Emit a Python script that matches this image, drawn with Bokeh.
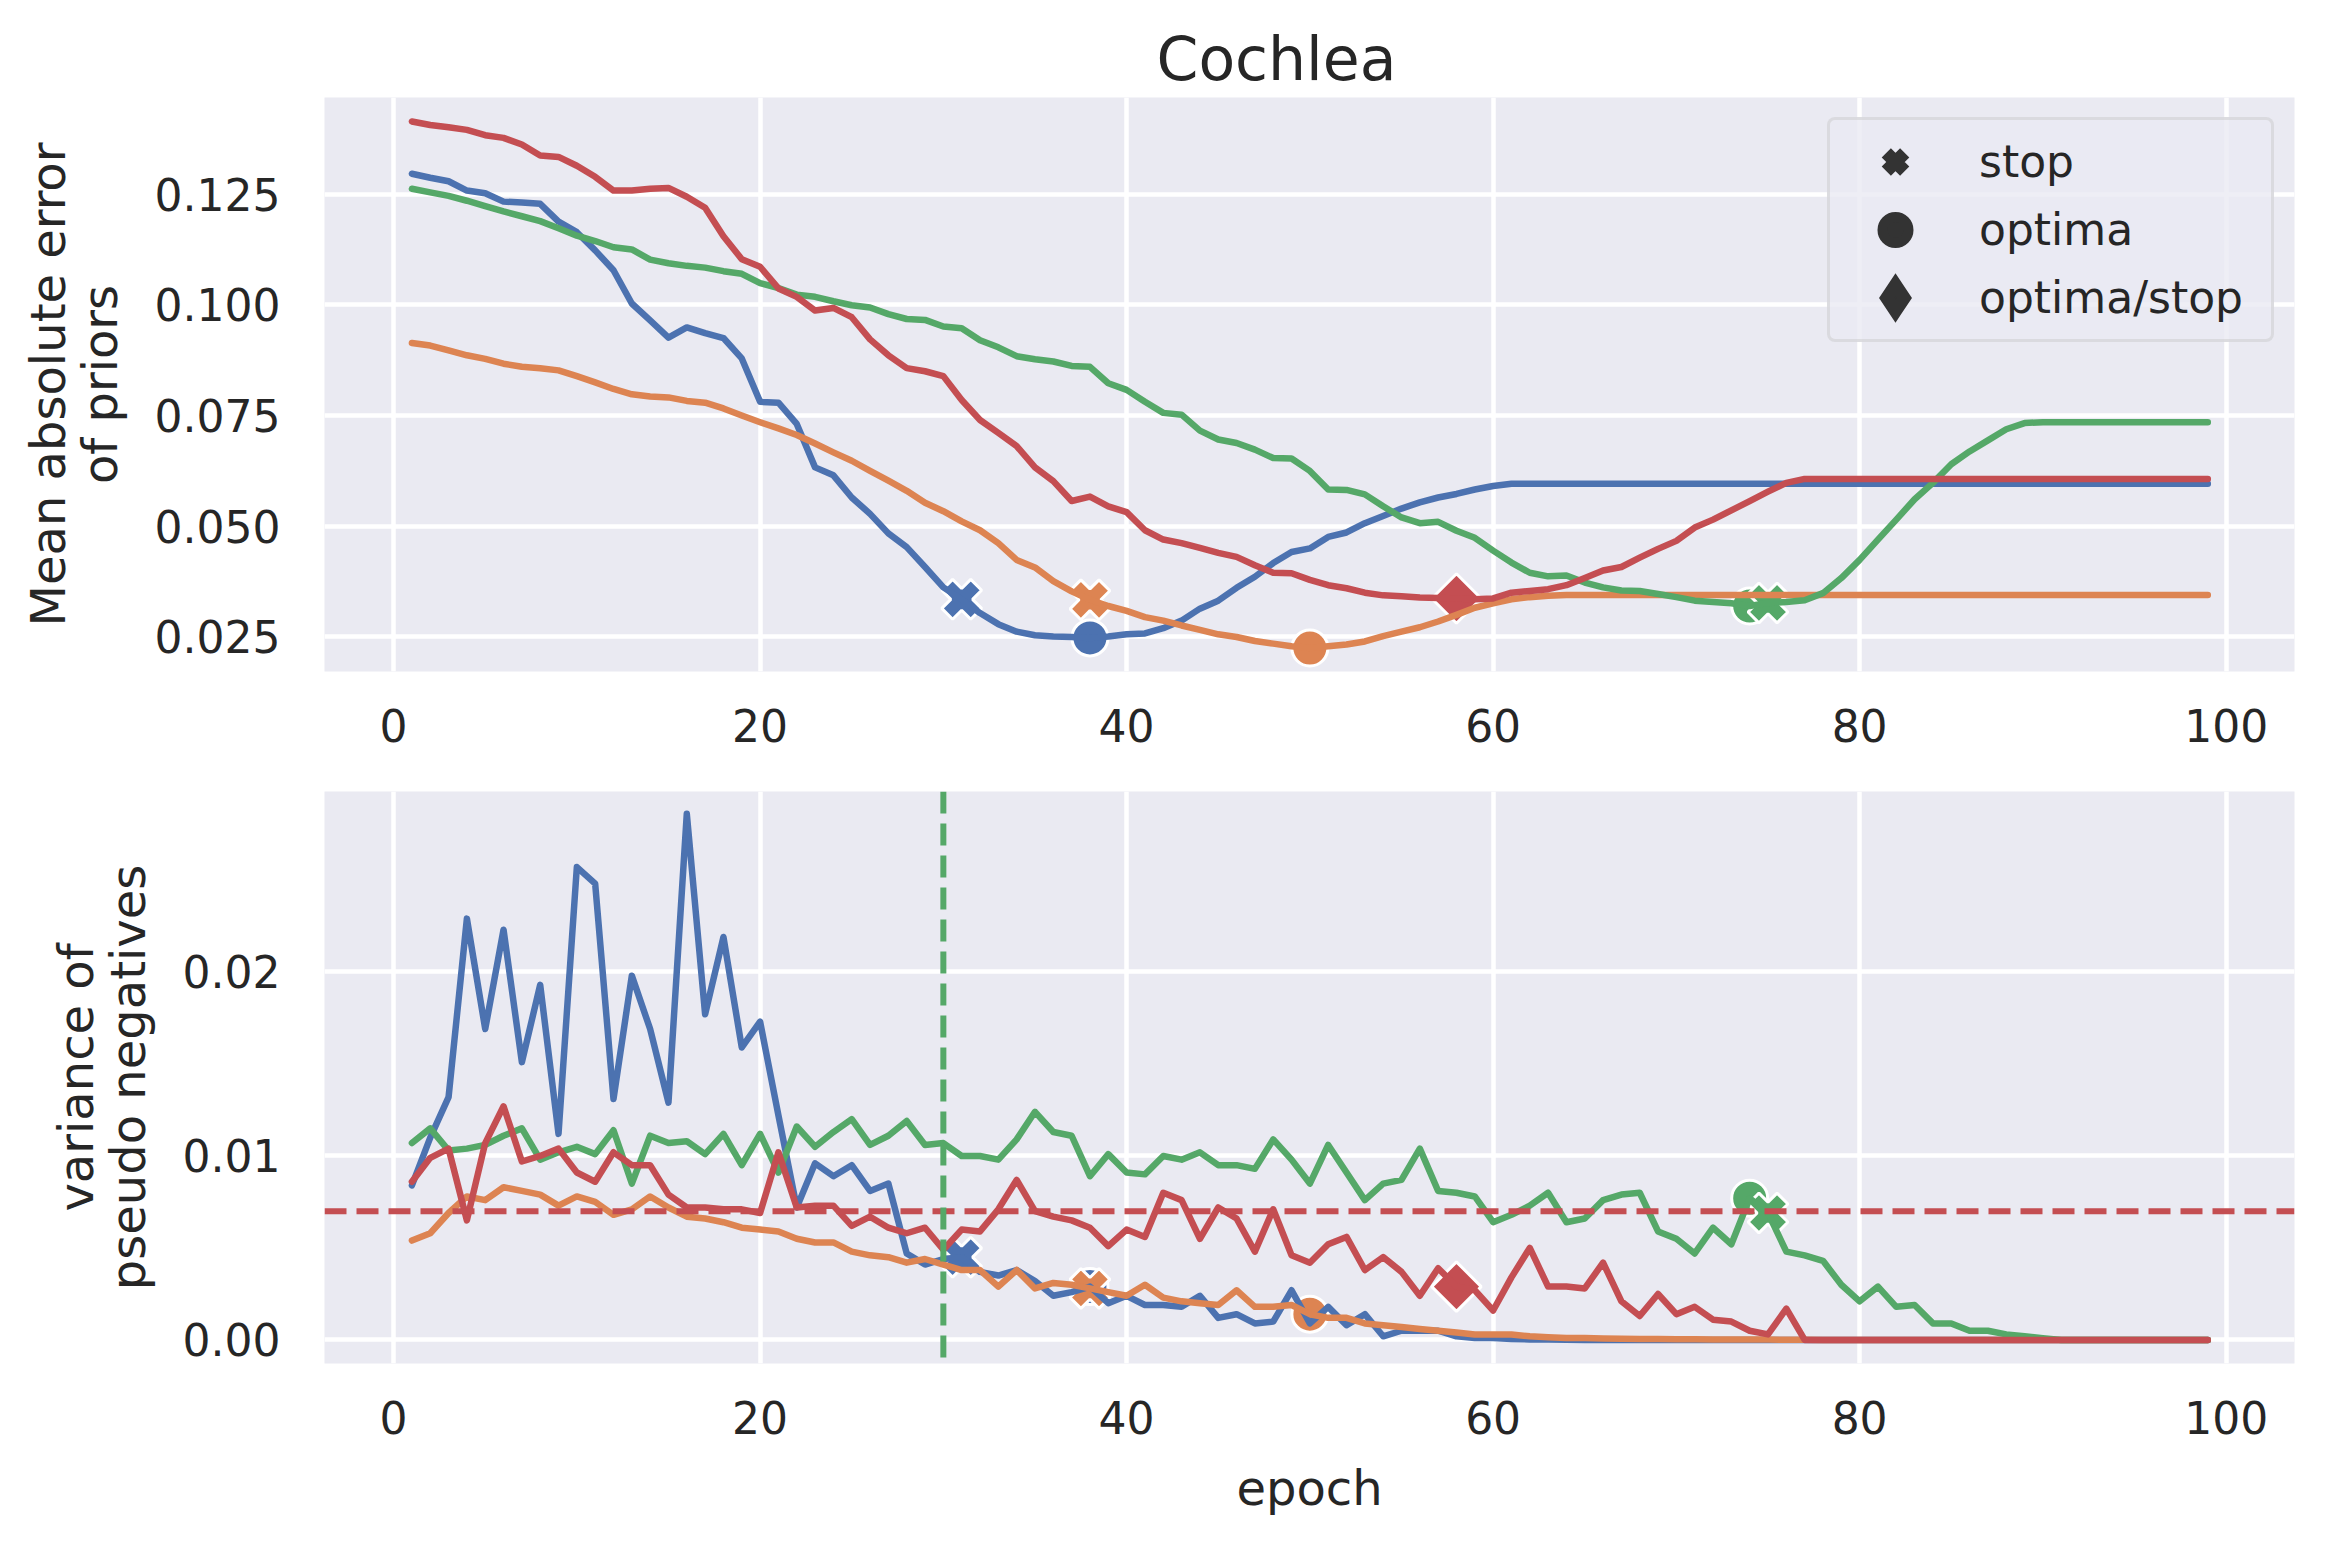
import math
from bokeh.plotting import figure
from bokeh.models import (Range1d, FixedTicker, NumeralTickFormatter, Span, Legend,
                          LegendItem, ColumnDataSource)
from bokeh.layouts import column
from bokeh.embed import file_html
from bokeh.resources import INLINE

# ---------------- data ----------------
epochs = list(range(1, 100))

blue_mae = [
    0.1296, 0.1287, 0.1279, 0.1258, 0.1252, 0.1233, 0.1231, 0.1228, 0.1188, 0.1164,
    0.1123, 0.1078, 0.1003, 0.0965, 0.0926, 0.0949, 0.0936, 0.0925, 0.0879, 0.0781,
    0.0779, 0.0731, 0.0633, 0.0615, 0.0565, 0.0528, 0.0484, 0.0453, 0.0408, 0.0362,
    0.0335, 0.0304, 0.0279, 0.0262, 0.0254, 0.0251, 0.0250, 0.0248, 0.0251, 0.0256,
    0.0258, 0.0270, 0.0287, 0.0314, 0.0332, 0.0361, 0.0386, 0.0417, 0.0442, 0.0450,
    0.0476, 0.0486, 0.0507, 0.0523, 0.0540, 0.0554, 0.0565, 0.0573, 0.0583, 0.0591,
    0.0596, 0.0596, 0.0596, 0.0596, 0.0596, 0.0596, 0.0596, 0.0596, 0.0596, 0.0596,
    0.0596, 0.0596, 0.0596, 0.0596, 0.0596, 0.0596, 0.0596, 0.0596, 0.0596, 0.0596,
    0.0596, 0.0596, 0.0596, 0.0596, 0.0596, 0.0596, 0.0596, 0.0596, 0.0596, 0.0596,
    0.0596, 0.0596, 0.0596, 0.0596, 0.0596, 0.0596, 0.0596, 0.0596, 0.0596,
]
orange_mae = [
    0.0914, 0.0908, 0.0897, 0.0886, 0.0878, 0.0867, 0.0860, 0.0857, 0.0852, 0.0839,
    0.0825, 0.0810, 0.0798, 0.0793, 0.0791, 0.0783, 0.0779, 0.0766, 0.0750, 0.0735,
    0.0721, 0.0706, 0.0687, 0.0667, 0.0648, 0.0625, 0.0603, 0.0580, 0.0553, 0.0534,
    0.0511, 0.0491, 0.0462, 0.0424, 0.0407, 0.0376, 0.0353, 0.0334, 0.0320, 0.0309,
    0.0295, 0.0287, 0.0276, 0.0266, 0.0256, 0.0250, 0.0241, 0.0235, 0.0229, 0.0225,
    0.0229, 0.0233, 0.0240, 0.0252, 0.0262, 0.0272, 0.0285, 0.0300, 0.0316, 0.0326,
    0.0335, 0.0340, 0.0343, 0.0345, 0.0345, 0.0345, 0.0345, 0.0345, 0.0345, 0.0345,
    0.0345, 0.0345, 0.0345, 0.0345, 0.0345, 0.0345, 0.0345, 0.0345, 0.0345, 0.0345,
    0.0345, 0.0345, 0.0345, 0.0345, 0.0345, 0.0345, 0.0345, 0.0345, 0.0345, 0.0345,
    0.0345, 0.0345, 0.0345, 0.0345, 0.0345, 0.0345, 0.0345, 0.0345, 0.0345,
]
green_mae = [
    0.1262, 0.1254, 0.1246, 0.1235, 0.1223, 0.1211, 0.1200, 0.1189, 0.1173, 0.1156,
    0.1144, 0.1130, 0.1125, 0.1102, 0.1094, 0.1088, 0.1084, 0.1076, 0.1070, 0.1049,
    0.1038, 0.1023, 0.1018, 0.1008, 0.0999, 0.0994, 0.0979, 0.0968, 0.0966, 0.0951,
    0.0947, 0.0920, 0.0904, 0.0884, 0.0877, 0.0872, 0.0862, 0.0860, 0.0823, 0.0808,
    0.0781, 0.0756, 0.0752, 0.0716, 0.0696, 0.0688, 0.0673, 0.0654, 0.0653, 0.0625,
    0.0583, 0.0582, 0.0572, 0.0545, 0.0520, 0.0507, 0.0510, 0.0490, 0.0474, 0.0445,
    0.0418, 0.0395, 0.0387, 0.0389, 0.0373, 0.0362, 0.0355, 0.0354, 0.0347, 0.0340,
    0.0332, 0.0329, 0.0326, 0.0320, 0.0327, 0.0329, 0.0333, 0.0349, 0.0383, 0.0424,
    0.0470, 0.0515, 0.0561, 0.0598, 0.0640, 0.0669, 0.0694, 0.0719, 0.0733, 0.0735,
    0.0735, 0.0735, 0.0735, 0.0735, 0.0735, 0.0735, 0.0735, 0.0735, 0.0735,
]
red_mae = [
    0.1414, 0.1406, 0.1401, 0.1395, 0.1383, 0.1377, 0.1362, 0.1337, 0.1334, 0.1314,
    0.1289, 0.1258, 0.1258, 0.1262, 0.1264, 0.1244, 0.1219, 0.1155, 0.1103, 0.1086,
    0.1037, 0.1018, 0.0987, 0.0993, 0.0972, 0.0922, 0.0886, 0.0857, 0.0850, 0.0839,
    0.0785, 0.0740, 0.0711, 0.0681, 0.0633, 0.0602, 0.0557, 0.0567, 0.0545, 0.0532,
    0.0491, 0.0470, 0.0462, 0.0451, 0.0440, 0.0431, 0.0412, 0.0395, 0.0394, 0.0379,
    0.0367, 0.0360, 0.0350, 0.0344, 0.0342, 0.0339, 0.0338, 0.0337, 0.0335, 0.0337,
    0.0350, 0.0354, 0.0358, 0.0367, 0.0383, 0.0400, 0.0408, 0.0429, 0.0449, 0.0467,
    0.0497, 0.0515, 0.0536, 0.0557, 0.0578, 0.0598, 0.0607, 0.0607, 0.0607, 0.0607,
    0.0607, 0.0607, 0.0607, 0.0607, 0.0607, 0.0607, 0.0607, 0.0607, 0.0607, 0.0607,
    0.0607, 0.0607, 0.0607, 0.0607, 0.0607, 0.0607, 0.0607, 0.0607, 0.0607,
]

blue_var = [
    0.0084, 0.0110, 0.0132, 0.0229, 0.0169, 0.0223, 0.0151, 0.0193, 0.0112, 0.0257,
    0.0248, 0.0131, 0.0198, 0.0169, 0.0129, 0.0286, 0.0177, 0.0219, 0.0159, 0.0173,
    0.0122, 0.0072, 0.0096, 0.0089, 0.0095, 0.0081, 0.0085, 0.0047, 0.0041, 0.0044,
    0.0045, 0.0037, 0.0035, 0.0038, 0.0032, 0.0024, 0.0026, 0.0029, 0.0020, 0.0024,
    0.0019, 0.0019, 0.0018, 0.0024, 0.0012, 0.0014, 0.0009, 0.0010, 0.0027, 0.0009,
    0.0018, 0.0008, 0.0014, 0.0002, 0.0005, 0.0005, 0.0005, 0.0002, 0.0001, 0.0001,
    0.00005, 0.00003, 0.00002, 0.00001, 0.0, 0.0, 0.0, 0.0, 0.0, 0.0,
    0.0, 0.0, 0.0, 0.0, 0.0, 0.0, 0.0, 0.0, 0.0, 0.0,
    0.0, 0.0, 0.0, 0.0, 0.0, 0.0, 0.0, 0.0, 0.0, 0.0,
    0.0, 0.0, 0.0, 0.0, 0.0, 0.0, 0.0, 0.0, 0.0,
]
orange_var = [
    0.0054, 0.0058, 0.0069, 0.0078, 0.0076, 0.0083, 0.0081, 0.0079, 0.0073, 0.0078,
    0.0075, 0.0068, 0.0071, 0.0078, 0.0072, 0.0067, 0.0066, 0.0064, 0.0061, 0.0060,
    0.0059, 0.0055, 0.0053, 0.0053, 0.0048, 0.0046, 0.0045, 0.0042, 0.0044, 0.0041,
    0.0038, 0.0038, 0.0029, 0.0038, 0.0028, 0.0031, 0.0030, 0.0028, 0.0026, 0.0024,
    0.0030, 0.0023, 0.0021, 0.0020, 0.0019, 0.0027, 0.0018, 0.0018, 0.0019, 0.0014,
    0.0012, 0.0012, 0.0009, 0.0008, 0.0007, 0.0006, 0.0005, 0.0004, 0.0003, 0.0003,
    0.0003, 0.0002, 0.00015, 0.0001, 0.0001, 0.00008, 0.00006, 0.00005, 0.00005, 0.00004,
    0.00004, 0.00003, 0.00003, 0.00002, 0.00002, 0.00001, 0.00001, 0.0, 0.0, 0.0,
    0.0, 0.0, 0.0, 0.0, 0.0, 0.0, 0.0, 0.0, 0.0, 0.0,
    0.0, 0.0, 0.0, 0.0, 0.0, 0.0, 0.0, 0.0, 0.0,
]
green_var = [
    0.0107, 0.0115, 0.0103, 0.0104, 0.0106, 0.0111, 0.0115, 0.0098, 0.0102, 0.0105,
    0.0101, 0.0114, 0.0085, 0.0111, 0.0107, 0.0108, 0.0101, 0.0112, 0.0095, 0.0112,
    0.0091, 0.0116, 0.0105, 0.0113, 0.0120, 0.0106, 0.0111, 0.0119, 0.0106, 0.0107,
    0.0100, 0.0100, 0.0098, 0.0109, 0.0124, 0.0113, 0.0111, 0.0089, 0.0101, 0.0091,
    0.0090, 0.0100, 0.0098, 0.0102, 0.0095, 0.0095, 0.0093, 0.0109, 0.0098, 0.0085,
    0.0106, 0.0091, 0.0076, 0.0085, 0.0087, 0.0104, 0.0081, 0.0080, 0.0078, 0.0064,
    0.0068, 0.0073, 0.0080, 0.0064, 0.0066, 0.0076, 0.0079, 0.0080, 0.0059, 0.0055,
    0.0047, 0.0061, 0.0052, 0.0077, 0.0069, 0.0048, 0.0046, 0.0043, 0.0030, 0.0021,
    0.0029, 0.0018, 0.0019, 0.0009, 0.0009, 0.0005, 0.0005, 0.0003, 0.0002, 0.0001,
    0.0, 0.0, 0.0, 0.0, 0.0, 0.0, 0.0, 0.0, 0.0,
]
red_var = [
    0.0086, 0.0099, 0.0104, 0.0065, 0.0107, 0.0127, 0.0097, 0.0100, 0.0104, 0.0091,
    0.0086, 0.0102, 0.0095, 0.0095, 0.0079, 0.0072, 0.0072, 0.0071, 0.0071, 0.0069,
    0.0102, 0.0072, 0.0073, 0.0073, 0.0062, 0.0067, 0.0061, 0.0058, 0.0061, 0.0049,
    0.0060, 0.0059, 0.0071, 0.0087, 0.0070, 0.0067, 0.0065, 0.0061, 0.0051, 0.0060,
    0.0056, 0.0080, 0.0076, 0.0055, 0.0072, 0.0066, 0.0048, 0.0071, 0.0046, 0.0042,
    0.0052, 0.0056, 0.0038, 0.0045, 0.0037, 0.0024, 0.0039, 0.0029, 0.0027, 0.0016,
    0.0034, 0.0050, 0.0029, 0.0029, 0.0028, 0.0042, 0.0021, 0.0013, 0.0025, 0.0014,
    0.0018, 0.0011, 0.0010, 0.0005, 0.0003, 0.0017, 0.0, 0.0, 0.0, 0.0,
    0.0, 0.0, 0.0, 0.0, 0.0, 0.0, 0.0, 0.0, 0.0, 0.0,
    0.0, 0.0, 0.0, 0.0, 0.0, 0.0, 0.0, 0.0, 0.0,
]

series_colors = ["#4C72B0", "#DD8452", "#55A868", "#C44E52"]
mae_series = [blue_mae, orange_mae, green_mae, red_mae]
var_series = [blue_var, orange_var, green_var, red_var]

# marker epochs per series (None = no marker of that kind)
stop_epochs = [31, 38, 75, None]
optima_epochs = [38, 50, 74, None]
optima_stop_epochs = [None, None, None, 58]

var_threshold = 0.007
vline_epoch = 30

x_ticks = [0, 20, 40, 60, 80, 100]
mae_ticks = [0.025, 0.05, 0.075, 0.1, 0.125]
var_ticks = [0.0, 0.01, 0.02]
legend_labels = ["stop", "optima", "optima/stop"]

for s in mae_series + var_series:
    assert len(s) == 99

# ---------------- styling ----------------
FONT = "DejaVu Sans"
TXT = "#262626"
BG = "#EAEAF2"
LINE_W = 6.5


def style_axes(p, yticks, yfmt):
    p.xaxis.ticker = FixedTicker(ticks=x_ticks)
    p.yaxis.ticker = FixedTicker(ticks=yticks)
    p.yaxis.formatter = NumeralTickFormatter(format=yfmt)
    for ax in list(p.xaxis) + list(p.yaxis):
        ax.axis_line_color = None
        ax.major_tick_line_color = None
        ax.minor_tick_line_color = None
        ax.major_tick_out = 0
        ax.major_tick_in = 0
        ax.minor_tick_out = 0
        ax.minor_tick_in = 0
        ax.major_label_text_font = FONT
        ax.major_label_text_font_size = "44px"
        ax.major_label_text_color = TXT
        ax.axis_label_text_font = FONT
        ax.axis_label_text_font_size = "48px"
        ax.axis_label_text_font_style = "normal"
        ax.axis_label_text_color = TXT
        ax.axis_label_text_line_height = 0.92
    p.xaxis.major_label_standoff = 37
    p.yaxis.major_label_standoff = 44
    p.yaxis.axis_label_standoff = 24
    p.xaxis.axis_label_standoff = 23
    p.grid.grid_line_color = "white"
    p.grid.grid_line_width = 4.5


def draw_series(p, values_list):
    # markers first (lines are drawn over them)
    for vals, color, e_stop, e_opt, e_os in zip(values_list, series_colors, stop_epochs,
                                                  optima_epochs, optima_stop_epochs):
        if e_opt is not None:
            src = ColumnDataSource(dict(x=[epochs[e_opt - 1]], y=[vals[e_opt - 1]]))
            p.scatter("x", "y", source=src, marker="circle", size=36, fill_color=color,
                      line_color="white", line_width=3)
        if e_stop is not None:
            src = ColumnDataSource(dict(x=[epochs[e_stop - 1]], y=[vals[e_stop - 1]]))
            p.scatter("x", "y", source=src, marker="plus", angle=math.pi / 4, size=41,
                      fill_color=color, line_color="white", line_width=3)
        if e_os is not None:
            src = ColumnDataSource(dict(x=[epochs[e_os - 1]], y=[vals[e_os - 1]]))
            p.scatter("x", "y", source=src, marker="square", angle=math.pi / 4, size=35,
                      fill_color=color, line_color="white", line_width=3)
    for vals, color in zip(values_list, series_colors):
        p.line(epochs, vals, line_color=color, line_width=LINE_W,
               line_join="round", line_cap="round")


# ---------------- top panel ----------------
p1 = figure(width=2319, height=775, x_range=Range1d(-3.77, 103.73),
            y_range=Range1d(0.01721, 0.14681), output_backend="svg",
            toolbar_location=None, min_border_left=324, min_border_right=25,
            min_border_top=97, min_border_bottom=104, background_fill_color=BG,
            border_fill_color="white", outline_line_color=None)
style_axes(p1, mae_ticks, "0.000")
p1.yaxis.axis_label = "Mean absolute error\nof priors"
p1.title.text = "Cochlea"
p1.title.text_font = FONT
p1.title.text_font_size = "60px"
p1.title.text_font_style = "normal"
p1.title.text_color = TXT
p1.title.align = "left"
p1.title.offset = 832
p1.title.standoff = 7
draw_series(p1, mae_series)

# legend-only renderers (no visible data point)
NAN = float("nan")
DARK = "#333333"
r_stop = p1.scatter(x=[NAN], y=[NAN], marker="x", size=26, line_color=DARK, line_width=13)
r_opt = p1.scatter(x=[NAN], y=[NAN], marker="circle", size=26, fill_color=DARK,
                   line_color=DARK, line_width=10)
r_os = p1.scatter(x=[NAN], y=[NAN], marker="diamond", size=26, fill_color=DARK,
                  line_color=DARK, line_width=13, line_join="miter")
legend = Legend(
    items=[LegendItem(label=legend_labels[0], renderers=[r_stop]),
           LegendItem(label=legend_labels[1], renderers=[r_opt]),
           LegendItem(label=legend_labels[2], renderers=[r_os])],
    location="top_right", margin=20, padding=9, spacing=3,
    glyph_width=112, glyph_height=65, label_standoff=28, label_width=283,
    label_text_font=FONT, label_text_font_size="44px", label_text_color=TXT,
    background_fill_color=BG, background_fill_alpha=0.8,
    border_line_color="#cccccc", border_line_width=3,
)
try:
    legend.border_radius = 8
except Exception:
    pass
p1.add_layout(legend)

# ---------------- bottom panel ----------------
p2 = figure(width=2319, height=755, x_range=Range1d(-3.77, 103.73),
            y_range=Range1d(-0.00128, 0.02981), output_backend="svg",
            toolbar_location=None, min_border_left=324, min_border_right=25,
            min_border_top=16, min_border_bottom=167, background_fill_color=BG,
            border_fill_color="white", outline_line_color=None)
style_axes(p2, var_ticks, "0.00")
p2.yaxis.axis_label = "variance of\npseudo negatives"
p2.xaxis.axis_label = "epoch"
draw_series(p2, var_series)
p2.add_layout(Span(location=var_threshold, dimension="width", line_color="#C44E52",
                   line_width=6, line_dash="22 10"))
p2.add_layout(Span(location=vline_epoch, dimension="height", line_color="#55A868",
                   line_width=6, line_dash="22 10"))

layout = column(p1, p2)
open("out.html", "w").write(file_html(layout, INLINE, "Cochlea"))
